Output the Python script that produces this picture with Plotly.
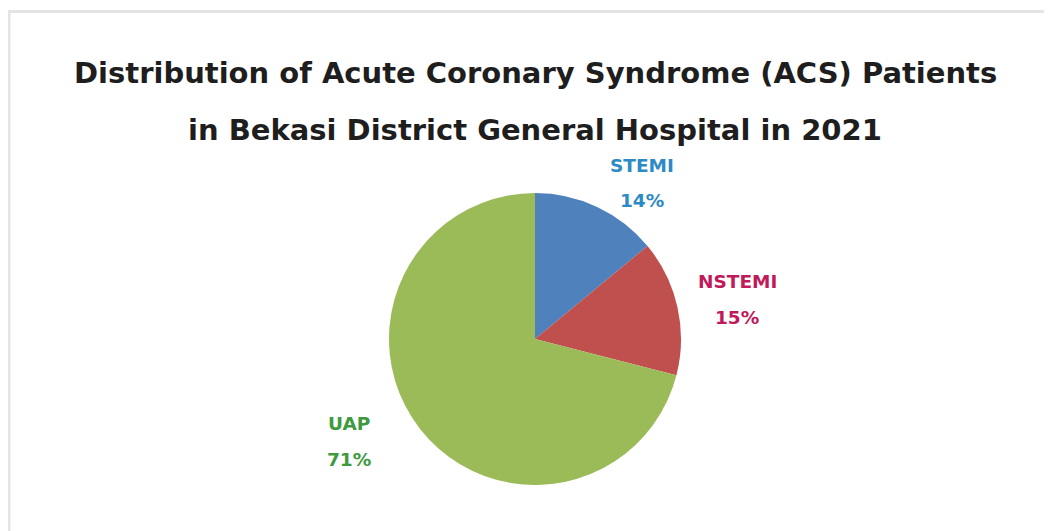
import plotly.graph_objects as go

categories = ["STEMI", "NSTEMI", "UAP"]
values = [14, 15, 71]
slice_colors = ["#4F81BD", "#C0504D", "#9BBB59"]
label_colors = ["#2E8AC4", "#C01A5A", "#3E9A3E"]
title_lines = ["Distribution of Acute Coronary Syndrome (ACS) Patients",
               "in Bekasi District General Hospital in 2021"]

W, H = 1052, 531
OFF = 8  # page body margin
cx, cy, r = 535 - OFF, 339 - OFF, 146

fig = go.Figure(go.Pie(
    labels=categories, values=values, sort=False, direction="clockwise",
    rotation=0, marker=dict(colors=slice_colors, line=dict(width=0)),
    textinfo="none", hoverinfo="label+percent", showlegend=False,
    domain=dict(x=[(cx - r) / W, (cx + r) / W], y=[(H - cy - r) / H, (H - cy + r) / H]),
))

def px(x):
    return (x - OFF) / W

def py(y):
    return 1 - (y - OFF) / H

ann = []
title_y = [73, 130]
for t, yy in zip(title_lines, title_y):
    ann.append(dict(text=t, x=px(535), y=py(yy), xref="paper", yref="paper",
                    xanchor="center", yanchor="middle", showarrow=False,
                    font=dict(family="DejaVu Sans", size=29, color="#1E1E1E", weight="bold")))

label_pos = [(642, 165.5, 200.5), (737, 281.5, 317.5), (349, 423.5, 459)]
total = sum(values)
for cat, v, col, (lx, ly1, ly2) in zip(categories, values, label_colors, label_pos):
    for txt, yy in ((cat, ly1), (f"{round(100 * v / total)}%", ly2)):
        ann.append(dict(text=txt, x=px(lx), y=py(yy), xref="paper", yref="paper",
                        xanchor="center", yanchor="middle", showarrow=False,
                        font=dict(family="DejaVu Sans", size=18.5, color=col, weight="bold")))

fig.update_layout(
    width=W, height=H, margin=dict(l=0, r=0, t=0, b=0),
    paper_bgcolor="white", plot_bgcolor="white",
    annotations=ann,
    shapes=[dict(type="rect", xref="paper", yref="paper",
                 x0=px(9), x1=1.05, y0=-0.05, y1=py(11.5),
                 line=dict(color="#E4E4E4", width=3), fillcolor="rgba(0,0,0,0)")],
)
fig.write_html("out.html")
